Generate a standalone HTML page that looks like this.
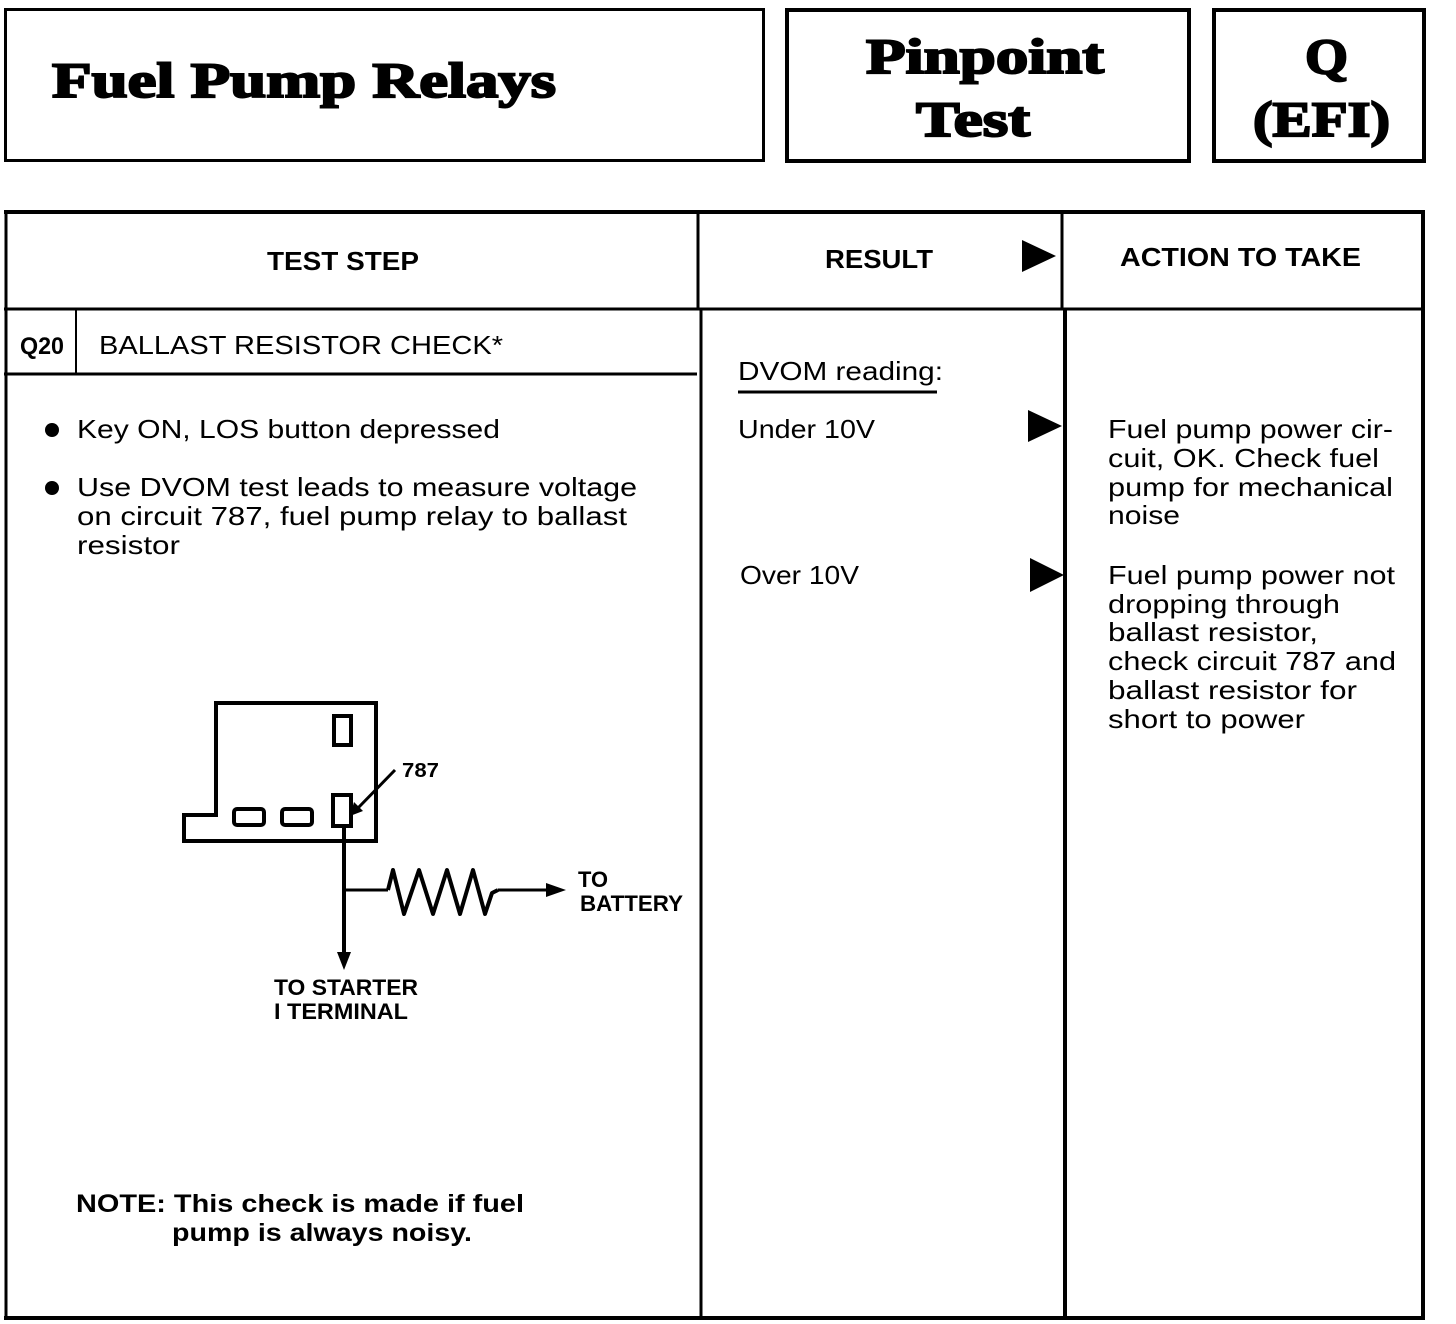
<!DOCTYPE html>
<html><head><meta charset="utf-8"><style>
html,body{margin:0;padding:0;background:#fff;}
svg{display:block;}
.t{font-family:"Liberation Sans",Arial,sans-serif;font-size:26px;fill:#000;}
.b{font-family:"Liberation Sans",Arial,sans-serif;font-weight:bold;fill:#000;}
.s{font-family:"Liberation Serif","DejaVu Serif",serif;font-weight:bold;fill:#000;stroke:#000;stroke-width:2;}
</style></head><body>
<svg width="1456" height="1324" viewBox="0 0 1456 1324" xmlns="http://www.w3.org/2000/svg">
<g fill="none" stroke="#000">
<rect x="5.5" y="9.5" width="758" height="151" stroke-width="3"/>
<rect x="787" y="10" width="402" height="151" stroke-width="4"/>
<rect x="1214" y="10" width="210" height="151" stroke-width="4"/>
<line x1="4" y1="212" x2="1425" y2="212" stroke-width="4"/>
<line x1="6" y1="210" x2="6" y2="1320" stroke-width="3"/>
<line x1="1423" y1="210" x2="1423" y2="1320" stroke-width="4"/>
<line x1="4" y1="1318" x2="1425" y2="1318" stroke-width="4"/>
<line x1="4" y1="309" x2="1425" y2="309" stroke-width="3"/>
<line x1="698" y1="210" x2="698" y2="310" stroke-width="3"/>
<line x1="701" y1="309" x2="701" y2="1320" stroke-width="3"/>
<line x1="1062" y1="210" x2="1062" y2="310" stroke-width="3"/>
<line x1="1065" y1="309" x2="1065" y2="1320" stroke-width="4"/>
<line x1="4" y1="374" x2="697" y2="374" stroke-width="3"/>
<line x1="76" y1="309" x2="76" y2="374" stroke-width="2"/>
<line x1="738" y1="392" x2="937" y2="392" stroke-width="3"/>
<polygon points="216,703 376,703 376,841 184,841 184,815 216,815" stroke-width="4"/>
<rect x="334" y="716" width="17" height="29" stroke-width="4"/>
<rect x="234" y="809" width="30" height="16" rx="3" stroke-width="4"/>
<rect x="282" y="809" width="30" height="16" rx="3" stroke-width="4"/>
<rect x="333" y="795" width="18" height="31" stroke-width="4"/>
<line x1="344" y1="826" x2="344" y2="955" stroke-width="4"/>
<line x1="344" y1="890" x2="388" y2="890" stroke-width="3"/>
<polyline points="388,890 393,870 404,914 419,870 433,914 447,870 460,914 473,870 485,914 492,893 498,890" stroke-width="4" stroke-linejoin="round"/>
<line x1="498" y1="890" x2="550" y2="890" stroke-width="3"/>
<line x1="395" y1="770" x2="358" y2="808" stroke-width="3"/>
</g>
<polygon points="337,952 351,952 344,970" fill="#000"/>
<polygon points="546,883 566,890 546,897" fill="#000"/>
<polygon points="350,816 354,802 363,811" fill="#000"/>
<polygon points="1022,240 1056,256 1022,272" fill="#000"/>
<polygon points="1028,410 1062,426 1028,442" fill="#000"/>
<polygon points="1030,558 1064,575 1030,592" fill="#000"/>
<circle cx="52" cy="430" r="7" fill="#000"/>
<circle cx="52" cy="488" r="7" fill="#000"/>

<text class="s" x="52" y="97" font-size="50" textLength="504" lengthAdjust="spacingAndGlyphs">Fuel Pump Relays</text>
<text class="s" x="866" y="73" font-size="50" textLength="238" lengthAdjust="spacingAndGlyphs">Pinpoint</text>
<text class="s" x="916" y="136" font-size="50" textLength="114" lengthAdjust="spacingAndGlyphs">Test</text>
<text class="s" x="1305" y="73" font-size="50" textLength="43" lengthAdjust="spacingAndGlyphs">Q</text>
<text class="s" x="1253" y="136" font-size="50" textLength="137" lengthAdjust="spacingAndGlyphs">(EFI)</text>

<text class="b" x="267" y="270" font-size="26" textLength="152" lengthAdjust="spacingAndGlyphs">TEST STEP</text>
<text class="b" x="825" y="268" font-size="26" textLength="108" lengthAdjust="spacingAndGlyphs">RESULT</text>
<text class="b" x="1120" y="266" font-size="26" textLength="241" lengthAdjust="spacingAndGlyphs">ACTION TO TAKE</text>
<text class="b" x="20" y="354" font-size="24" textLength="44" lengthAdjust="spacingAndGlyphs">Q20</text>
<text class="t" x="99" y="354" textLength="404" lengthAdjust="spacingAndGlyphs">BALLAST RESISTOR CHECK*</text>

<text class="t" x="77" y="438" textLength="423" lengthAdjust="spacingAndGlyphs">Key ON, LOS button depressed</text>
<text class="t" x="77" y="496" textLength="560" lengthAdjust="spacingAndGlyphs">Use DVOM test leads to measure voltage</text>
<text class="t" x="77" y="525" textLength="550" lengthAdjust="spacingAndGlyphs">on circuit 787, fuel pump relay to ballast</text>
<text class="t" x="77" y="554" textLength="103" lengthAdjust="spacingAndGlyphs">resistor</text>

<text class="b" x="402" y="777" font-size="20" textLength="37" lengthAdjust="spacingAndGlyphs">787</text>
<text class="b" x="578" y="887" font-size="22" textLength="30" lengthAdjust="spacingAndGlyphs">TO</text>
<text class="b" x="580" y="911" font-size="22" textLength="103" lengthAdjust="spacingAndGlyphs">BATTERY</text>
<text class="b" x="274" y="995" font-size="22" textLength="144" lengthAdjust="spacingAndGlyphs">TO STARTER</text>
<text class="b" x="274" y="1019" font-size="22" textLength="134" lengthAdjust="spacingAndGlyphs">I TERMINAL</text>

<text class="b" x="76" y="1212" font-size="25" textLength="448" lengthAdjust="spacingAndGlyphs">NOTE: This check is made if fuel</text>
<text class="b" x="172" y="1241" font-size="25" textLength="300" lengthAdjust="spacingAndGlyphs">pump is always noisy.</text>

<text class="t" x="738" y="380" textLength="205" lengthAdjust="spacingAndGlyphs">DVOM reading:</text>
<text class="t" x="738" y="438" textLength="137" lengthAdjust="spacingAndGlyphs">Under 10V</text>
<text class="t" x="740" y="584" textLength="119" lengthAdjust="spacingAndGlyphs">Over 10V</text>

<text class="t" x="1108" y="438" textLength="285" lengthAdjust="spacingAndGlyphs">Fuel pump power cir-</text>
<text class="t" x="1108" y="467" textLength="271" lengthAdjust="spacingAndGlyphs">cuit, OK. Check fuel</text>
<text class="t" x="1108" y="496" textLength="285" lengthAdjust="spacingAndGlyphs">pump for mechanical</text>
<text class="t" x="1108" y="524" textLength="72" lengthAdjust="spacingAndGlyphs">noise</text>
<text class="t" x="1108" y="584" textLength="287" lengthAdjust="spacingAndGlyphs">Fuel pump power not</text>
<text class="t" x="1108" y="613" textLength="232" lengthAdjust="spacingAndGlyphs">dropping through</text>
<text class="t" x="1108" y="641" textLength="210" lengthAdjust="spacingAndGlyphs">ballast resistor,</text>
<text class="t" x="1108" y="670" textLength="288" lengthAdjust="spacingAndGlyphs">check circuit 787 and</text>
<text class="t" x="1108" y="699" textLength="249" lengthAdjust="spacingAndGlyphs">ballast resistor for</text>
<text class="t" x="1108" y="728" textLength="197" lengthAdjust="spacingAndGlyphs">short to power</text>
</svg>
</body></html>
